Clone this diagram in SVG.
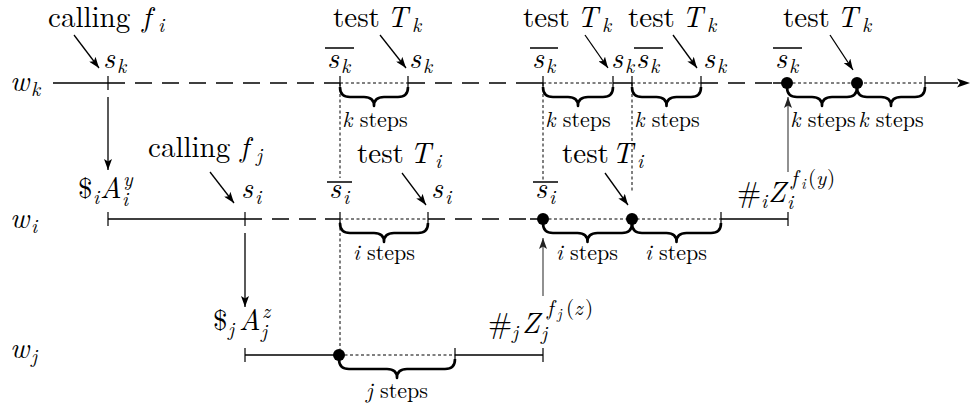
<svg xmlns="http://www.w3.org/2000/svg" width="970" height="411" viewBox="0 0 970 411" font-family="Latin Modern Roman, Liberation Serif, serif">
<defs>
<style>
.ln{stroke:#000;stroke-width:1.3;fill:none}
.ds{stroke:#000;stroke-width:1.3;fill:none;stroke-dasharray:17 10;stroke-dashoffset:17}
.dt{stroke:#000;stroke-width:1;fill:none;stroke-dasharray:3 2.5}
.tk{stroke:#000;stroke-width:1.2}
.br{stroke:#000;stroke-width:2.6;fill:none;stroke-linejoin:round}
.ar{stroke:#000;stroke-width:1.3;fill:none;marker-end:url(#ah)}
.ag{stroke:#555;stroke-width:1.3;fill:none;marker-end:url(#ahg)}
.ov{stroke:#000;stroke-width:1.3}
.m{font-size:29px}
.st{font-size:22px}
.it{font-style:italic}
.sb{font-size:20px;font-style:italic}
.ss{font-size:15px;font-style:italic}
.sp{font-size:21px}
.si{font-size:21px;font-style:italic}
</style>
<marker id="ah" viewBox="0 0 11 8" refX="11" refY="4" markerWidth="11" markerHeight="8" markerUnits="userSpaceOnUse" orient="auto"><path d="M0,0 L11,4 L0,8 L2.5,4 z" fill="#000"/></marker>
<marker id="ahg" viewBox="0 0 11 8" refX="11" refY="4" markerWidth="11" markerHeight="8" markerUnits="userSpaceOnUse" orient="auto"><path d="M0,0 L11,4 L0,8 L2.5,4 z" fill="#222"/></marker>
</defs>
<rect width="970" height="411" fill="#fff"/>

<g id="wk-line">
<path class="ln" d="M53 83H125M325 83H340M408 83H425M528 83H543M613 83H632M701 83H718M773 83H787M925 83H958"/>
<path class="ds" d="M125 83H325M425 83H528M718 83H773"/>
<path class="dt" d="M340 83H408M543 83H613M632 83H701M787 83H925"/>
<path class="tk" d="M108 76V90M340 76V90M408 76V90M543 76V90M613 76V90M632 76V90M701 76V90M925 76V90"/>
<circle cx="787" cy="83" r="6"/>
<circle cx="857" cy="83" r="6"/>
<path d="M970 83 L957 78.5 L960 83 L957 87.5 z" fill="#000"/>
<path class="br" d="M340 87 Q340 97 350 97 L364 97 Q374 97 374 106 Q374 97 384 97 L398 97 Q408 97 408 87"/>
<path class="br" d="M543 87 Q543 97 553 97 L568 97 Q578 97 578 106 Q578 97 588 97 L603 97 Q613 97 613 87"/>
<path class="br" d="M632 87 Q632 97 642 97 L656.5 97 Q666.5 97 666.5 106 Q666.5 97 676.5 97 L691 97 Q701 97 701 87"/>
<path class="br" d="M787 87 Q787 97 797 97 L812 97 Q822 97 822 106 Q822 97 832 97 L847 97 Q857 97 857 87"/>
<path class="br" d="M857 87 Q857 97 867 97 L881 97 Q891 97 891 106 Q891 97 901 97 L915 97 Q925 97 925 87"/>
</g>

<g id="wi-line">
<path class="ln" d="M108 219H262M325 219H340M428 219H445M530 219H543M721 219H788"/>
<path class="ds" d="M262 219H325M445 219H530"/>
<path class="dt" d="M340 219H428M543 219H721"/>
<path class="tk" d="M108 212V226M245 212V226M340 212V226M428 212V226M721 212V226M788 212V226"/>
<circle cx="543" cy="219" r="6"/>
<circle cx="632" cy="219" r="6"/>
<path class="br" d="M340 223 Q340 233 350 233 L374 233 Q384 233 384 242 Q384 233 394 233 L418 233 Q428 233 428 223"/>
<path class="br" d="M543 223 Q543 233 553 233 L577.5 233 Q587.5 233 587.5 242 Q587.5 233 597.5 233 L622 233 Q632 233 632 223"/>
<path class="br" d="M632 223 Q632 233 642 233 L666.5 233 Q676.5 233 676.5 242 Q676.5 233 686.5 233 L711 233 Q721 233 721 223"/>
</g>

<g id="wj-line">
<path class="ln" d="M245 355H339M455 355H543"/>
<path class="dt" d="M339 355H455"/>
<path class="tk" d="M245 348V362M455 348V362M543 348V362"/>
<circle cx="339" cy="355" r="6"/>
<path class="br" d="M339 359 Q339 369 349 369 L387 369 Q397 369 397 378 Q397 369 407 369 L445 369 Q455 369 455 359"/>
</g>

<g id="connectors">
<path class="dt" d="M340 83V178M340 222V350M543 83V180M632 83V193"/>
<line class="ar" x1="108" y1="97" x2="108" y2="170"/>
<line class="ar" x1="245" y1="233" x2="245" y2="307"/>
<line class="ag" x1="543" y1="296" x2="543" y2="238"/>
<line class="ag" x1="788" y1="172" x2="788" y2="97"/>
<line class="ar" x1="74" y1="35" x2="99" y2="68"/>
<line class="ar" x1="380" y1="35" x2="406" y2="68"/>
<line class="ar" x1="585" y1="35" x2="608" y2="68"/>
<line class="ar" x1="673" y1="35" x2="697" y2="68"/>
<line class="ar" x1="830" y1="35" x2="853" y2="70"/>
<line class="ar" x1="210" y1="172" x2="234" y2="203"/>
<line class="ar" x1="402" y1="173" x2="426" y2="205"/>
<line class="ar" x1="605" y1="173" x2="628" y2="205"/>
</g>

<g id="row-labels">
<text class="m"><tspan class="it" x="10" y="91">w</tspan><tspan class="sb" x="31" y="96">k</tspan></text>
<text class="m"><tspan class="it" x="10" y="228">w</tspan><tspan class="sb" x="31" y="233">i</tspan></text>
<text class="m"><tspan class="it" x="10" y="358">w</tspan><tspan class="sb" x="31" y="363">j</tspan></text>
</g>

<g id="calls">
<text class="m" x="48" y="27">calling<tspan class="it" x="142">f</tspan><tspan class="sb" x="158" y="32">i</tspan></text>
<text class="m" x="148" y="157">calling<tspan class="it" x="240">f</tspan><tspan class="sb" x="256" y="162">j</tspan></text>
</g>

<g id="tests">
<text class="m" x="333" y="27">test<tspan class="it" x="387">T</tspan><tspan class="sb" x="412" y="32">k</tspan></text>
<text class="m" x="523" y="27">test<tspan class="it" x="577">T</tspan><tspan class="sb" x="602" y="32">k</tspan></text>
<text class="m" x="628" y="27">test<tspan class="it" x="682">T</tspan><tspan class="sb" x="707" y="32">k</tspan></text>
<text class="m" x="783" y="27">test<tspan class="it" x="837">T</tspan><tspan class="sb" x="862" y="32">k</tspan></text>
<text class="m" x="357" y="163">test<tspan class="it" x="410">T</tspan><tspan class="sb" x="435" y="168">i</tspan></text>
<text class="m" x="562" y="163">test<tspan class="it" x="612">T</tspan><tspan class="sb" x="637" y="168">i</tspan></text>
</g>

<g id="s-labels">
<text class="m"><tspan class="it" x="103" y="68">s</tspan><tspan class="sb" x="117" y="73">k</tspan></text>
<text class="m"><tspan class="it" x="409" y="68">s</tspan><tspan class="sb" x="423" y="73">k</tspan></text>
<text class="m"><tspan class="it" x="611" y="68">s</tspan><tspan class="sb" x="625" y="73">k</tspan></text>
<text class="m"><tspan class="it" x="703" y="68">s</tspan><tspan class="sb" x="717" y="73">k</tspan></text>
<text class="m"><tspan class="it" x="327" y="68">s</tspan><tspan class="sb" x="341" y="73">k</tspan></text>
<text class="m"><tspan class="it" x="532" y="68">s</tspan><tspan class="sb" x="546" y="73">k</tspan></text>
<text class="m"><tspan class="it" x="636" y="68">s</tspan><tspan class="sb" x="650" y="73">k</tspan></text>
<text class="m"><tspan class="it" x="775" y="68">s</tspan><tspan class="sb" x="789" y="73">k</tspan></text>
<path class="ov" d="M325 48H354M530 48H558M634 48H663M773 48H802"/>
<text class="m"><tspan class="it" x="241" y="198">s</tspan><tspan class="sb" x="255" y="204">i</tspan></text>
<text class="m"><tspan class="it" x="431" y="198">s</tspan><tspan class="sb" x="445" y="204">i</tspan></text>
<text class="m"><tspan class="it" x="329" y="198">s</tspan><tspan class="sb" x="343" y="204">i</tspan></text>
<text class="m"><tspan class="it" x="535" y="198">s</tspan><tspan class="sb" x="549" y="204">i</tspan></text>
<path class="ov" d="M327 182H352M533 182H558"/>
</g>

<g id="words">
<text class="m"><tspan x="78" y="198">$</tspan><tspan class="sb" x="93" y="204">i</tspan><tspan class="it" x="100" y="198">A</tspan><tspan class="sb" x="123" y="186">y</tspan><tspan class="sb" x="122" y="206">i</tspan></text>
<text class="m"><tspan x="213" y="330">$</tspan><tspan class="sb" x="228" y="336">j</tspan><tspan class="it" x="239" y="330">A</tspan><tspan class="sb" x="262" y="318">z</tspan><tspan class="sb" x="261" y="338">j</tspan></text>
<text class="m"><tspan x="737" y="202">#</tspan><tspan class="sb" x="761" y="208">i</tspan><tspan class="it" x="768" y="202">Z</tspan><tspan class="sb" x="787" y="209">i</tspan><tspan class="si" x="791" y="185">f</tspan><tspan class="ss" x="801" y="189">i</tspan><tspan class="sp" x="808" y="185">(</tspan><tspan class="si" x="816" y="185">y</tspan><tspan class="sp" x="827" y="185">)</tspan></text>
<text class="m"><tspan x="488" y="333">#</tspan><tspan class="sb" x="512" y="339">j</tspan><tspan class="it" x="522" y="333">Z</tspan><tspan class="sb" x="541" y="340">j</tspan><tspan class="si" x="547" y="315">f</tspan><tspan class="ss" x="557" y="319">j</tspan><tspan class="sp" x="566" y="315">(</tspan><tspan class="si" x="574" y="315">z</tspan><tspan class="sp" x="585" y="315">)</tspan></text>
</g>

<g id="steps">
<text class="st" x="375" y="127" text-anchor="middle"><tspan class="it">k</tspan> steps</text>
<text class="st" x="578" y="127" text-anchor="middle"><tspan class="it">k</tspan> steps</text>
<text class="st" x="667" y="127" text-anchor="middle"><tspan class="it">k</tspan> steps</text>
<text class="st" x="823" y="127" text-anchor="middle"><tspan class="it">k</tspan> steps</text>
<text class="st" x="891" y="127" text-anchor="middle"><tspan class="it">k</tspan> steps</text>
<text class="st" x="384" y="260" text-anchor="middle"><tspan class="it">i</tspan> steps</text>
<text class="st" x="587" y="260" text-anchor="middle"><tspan class="it">i</tspan> steps</text>
<text class="st" x="676" y="260" text-anchor="middle"><tspan class="it">i</tspan> steps</text>
<text class="st" x="397" y="398" text-anchor="middle"><tspan class="it">j</tspan> steps</text>
</g>
</svg>
